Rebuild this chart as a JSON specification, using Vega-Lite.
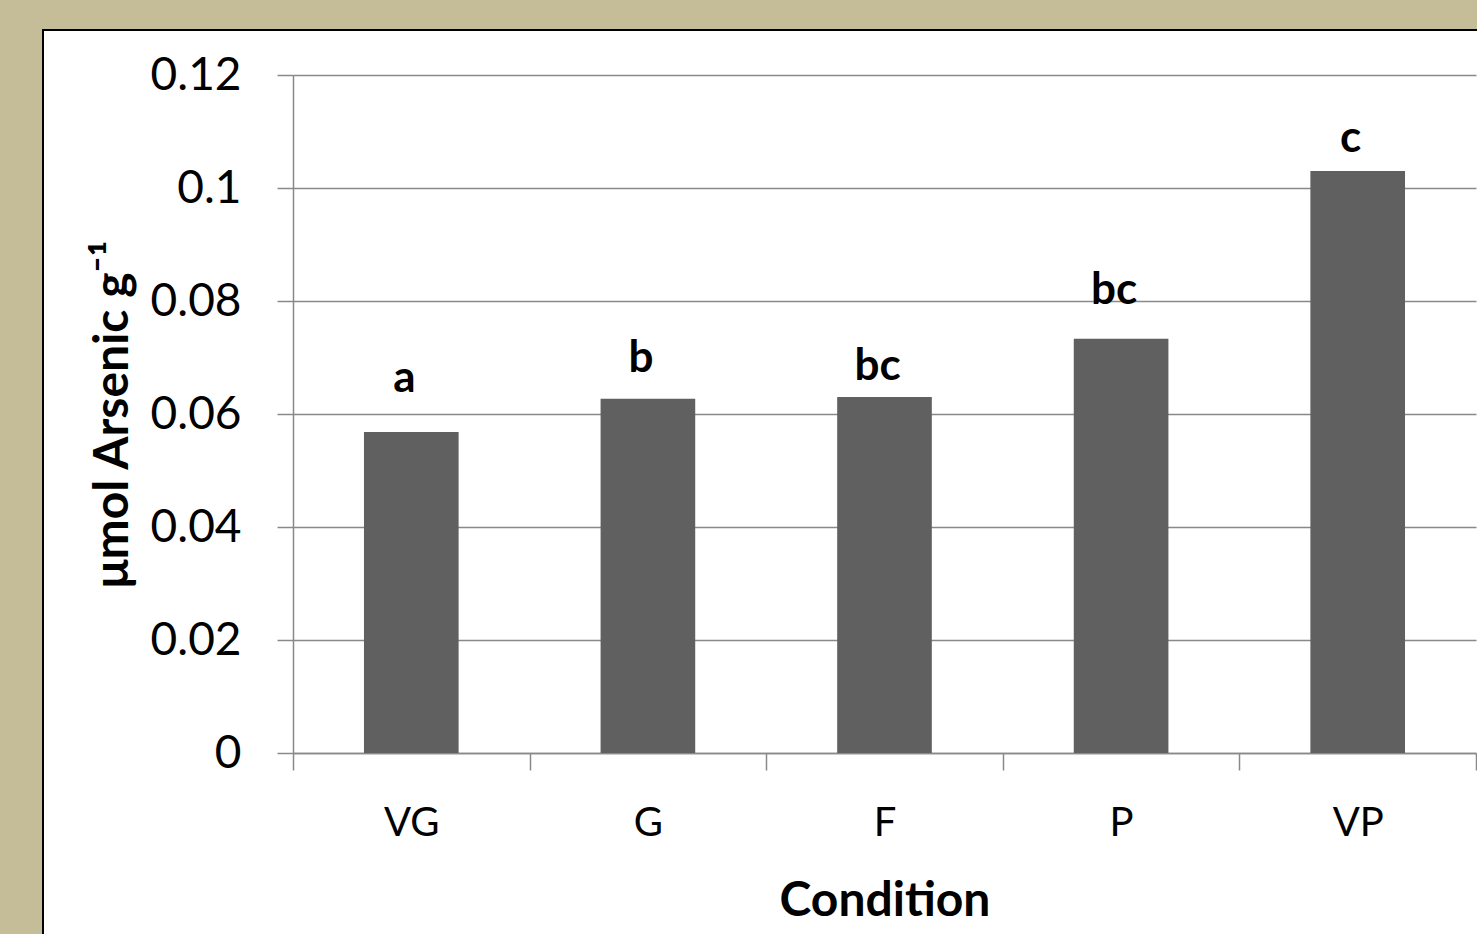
{
  "$schema": "https://vega.github.io/schema/vega-lite/v6.json",
  "autosize": {"type": "none"},
  "padding": {"left": 43, "top": 30, "right": 0, "bottom": 0},
  "width": 1434,
  "height": 904,
  "background": "#C4BD97",
  "config": {
    "font": "Lato",
    "view": {"fill": "white", "stroke": "black", "strokeWidth": 2, "strokeDash": [1434, 2338, 906, 1000]},
    "axis": {
      "domainColor": "#898989",
      "domainWidth": 1.5,
      "tickColor": "#898989",
      "tickWidth": 1.5,
      "gridColor": "#898989",
      "gridWidth": 1.5,
      "labelColor": "black",
      "titleColor": "black",
      "labelFont": "Lato",
      "titleFont": "Lato"
    }
  },
  "data": {
    "values": [
      {"Condition": "VG", "arsenic": 0.0568, "letter": "a", "letterY": 0.0639},
      {"Condition": "G", "arsenic": 0.0627, "letter": "b", "letterY": 0.0674},
      {"Condition": "F", "arsenic": 0.0630, "letter": "bc", "letterY": 0.0660},
      {"Condition": "P", "arsenic": 0.0733, "letter": "bc", "letterY": 0.0795},
      {"Condition": "VP", "arsenic": 0.1030, "letter": "c", "letterY": 0.1064}
    ]
  },
  "encoding": {
    "x": {
      "field": "Condition",
      "type": "nominal",
      "sort": ["VG", "G", "F", "P", "VP"],
      "scale": {"range": [250, 1433], "paddingInner": 0, "paddingOuter": 0},
      "axis": {
        "title": "Condition",
        "titleFontSize": 48,
        "titleFontWeight": "bold",
        "titlePadding": 34,
        "labelFontSize": 40,
        "labelPadding": 33,
        "labelAngle": 0,
        "tickSize": 17,
        "tickBand": "extent",
        "offset": -181,
        "grid": false
      }
    }
  },
  "layer": [
    {
      "mark": {"type": "bar", "color": "#606060", "width": {"band": 0.4}},
      "encoding": {
        "y": {
          "field": "arsenic",
          "type": "quantitative",
          "scale": {"domain": [0, 0.12], "range": [723, 45], "nice": false, "zero": true},
          "axis": {
            "title": "μmol Arsenic g⁻¹",
            "titleFontSize": 48,
            "titleFontWeight": "bold",
            "titlePadding": 13,
            "values": [0, 0.02, 0.04, 0.06, 0.08, 0.1, 0.12],
            "format": "~g",
            "labelFontSize": 46,
            "labelPadding": 36,
            "tickSize": 16,
            "offset": -250,
            "grid": true
          }
        }
      }
    },
    {
      "mark": {"type": "text", "font": "Lato", "fontWeight": "bold", "fontSize": 44, "baseline": "alphabetic", "align": "center", "dx": -7, "color": "black"},
      "encoding": {
        "y": {"field": "letterY", "type": "quantitative"},
        "text": {"field": "letter", "type": "nominal"}
      }
    }
  ]
}
